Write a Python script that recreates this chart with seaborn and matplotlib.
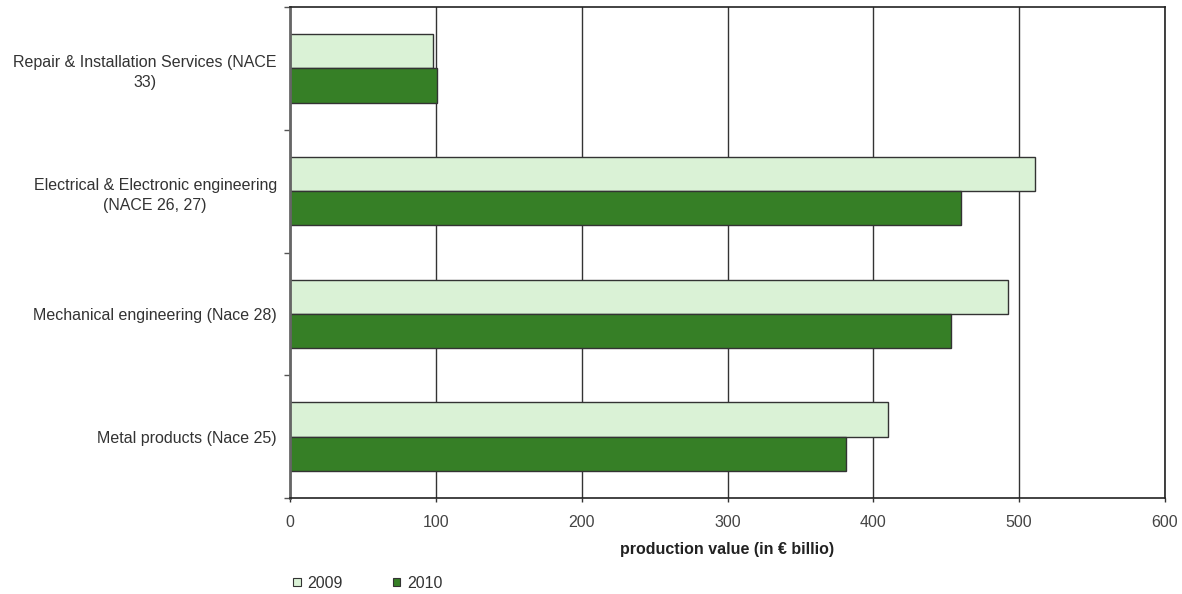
import matplotlib
matplotlib.use("Agg")
import matplotlib.pyplot as plt
from matplotlib.patches import Patch
import numpy as np
import pandas as pd
import seaborn as sns

# Production value by sector (in € billion)
sectors = [
    "Repair & Installation Services (NACE\n33)",
    "Electrical & Electronic engineering\n(NACE 26, 27)",
    "Mechanical engineering (Nace 28)",
    "Metal products (Nace 25)",
]
years = ["2009", "2010"]
values_2009 = [98, 511, 492, 410]
values_2010 = [101, 460, 453, 381]
x_ticks = [0, 100, 200, 300, 400, 500, 600]

colors = {"2009": "#daf2d6", "2010": "#367f26"}

df = pd.DataFrame({
    "sector": sectors * 2,
    "year": [years[0]] * len(sectors) + [years[1]] * len(sectors),
    "value": values_2009 + values_2010,
})

sns.set_style("white")
plt.rcParams["font.family"] = ["Liberation Sans", "DejaVu Sans"]

fig = plt.figure(figsize=(11.82, 5.94), dpi=100)
ax = fig.add_axes([290 / 1182, 1 - 498 / 594, 875 / 1182, 491 / 594])

sns.barplot(
    data=df, y="sector", x="value", hue="year", order=sectors,
    hue_order=years, palette=colors, orient="h", width=0.56,
    edgecolor="#333333", linewidth=1.0, ax=ax, legend=False, saturation=1,
)

ax.set_xlim(0, 600)
ax.set_ylim(len(sectors) - 0.5, -0.5)
ax.set_xticks(x_ticks)
ax.set_xticklabels([str(t) for t in x_ticks], color="#444444", fontsize=11.5)
ax.grid(axis="x", color="#333333", linewidth=1.0)
ax.set_axisbelow(True)

# category labels centred, boundary ticks on the left spine
ax.set_yticks(range(len(sectors)))
ax.set_yticklabels(sectors, fontsize=11.5, color="#333333",
                   multialignment="center", linespacing=1.45)
ax.tick_params(axis="y", which="major", length=0, pad=9.5)
ax.set_yticks(np.arange(-0.5, len(sectors), 1.0), minor=True)
ax.tick_params(axis="y", which="minor", length=4, width=1, color="#555555", left=True)
ax.tick_params(axis="x", length=3, width=1, color="#333333", bottom=True, pad=9)

ax.set_ylabel("")
ax.set_xlabel("production value (in € billio)", fontsize=11.5, fontweight="bold",
              color="#222222", labelpad=9)

for side in ["top", "right", "bottom"]:
    ax.spines[side].set_color("#222222")
    ax.spines[side].set_linewidth(1.2)
ax.spines["left"].set_color("#666666")
ax.spines["left"].set_linewidth(2)

handles = [Patch(facecolor=colors[y], edgecolor="#333333", linewidth=0.8) for y in years]
fig.legend(handles, years, loc="center left", bbox_to_anchor=(279 / 1182, 1 - 583 / 594),
           ncol=2, frameon=False, fontsize=11.5, handlelength=0.45, handleheight=0.45,
           handletextpad=0.45, columnspacing=3.1, labelcolor="#333333")

fig.savefig("out.png", dpi=100)
